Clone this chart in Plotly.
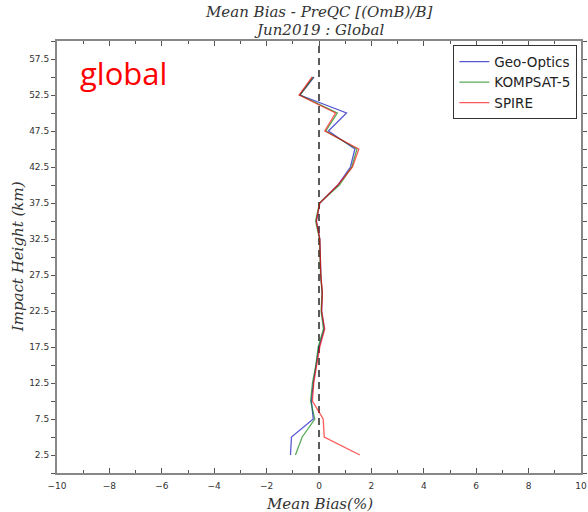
import plotly.graph_objects as go

# Impact heights (km) of the bias profile
heights = [2.5, 5, 7.5, 10, 12.5, 15, 17.5, 20, 22.5, 25, 27.5,
           30, 32.5, 35, 37.5, 40, 42.5, 45, 47.5, 50, 52.5, 55]

# Mean bias (%) per mission
geo_optics = [-1.09, -1.05, -0.22, -0.29, -0.22, -0.10, 0.00, 0.20, 0.10, 0.12, 0.07,
              0.05, 0.03, -0.10, 0.03, 0.72, 1.20, 1.37, 0.36, 1.05, -0.73, -0.19]
kompsat5 = [-0.90, -0.64, -0.16, -0.32, -0.25, -0.12, -0.03, 0.17, 0.08, 0.12, 0.06,
            0.04, 0.02, -0.13, 0.02, 0.78, 1.25, 1.45, 0.26, 0.70, -0.73, -0.22]
spire = [1.56, 0.20, 0.16, -0.25, -0.20, -0.08, 0.03, 0.22, 0.10, 0.13, 0.07,
         0.05, 0.03, -0.10, 0.03, 0.72, 1.28, 1.52, 0.22, 0.63, -0.76, -0.26]

series = [
    ("Geo-Optics", geo_optics, "rgba(0,0,191,0.65)"),
    ("KOMPSAT-5", kompsat5, "rgba(0,128,0,0.65)"),
    ("SPIRE", spire, "rgba(255,0,0,0.65)"),
]

title_lines = ["Mean Bias - PreQC [(OmB)/B]", "Jun2019 : Global"]
x_title = "Mean Bias(%)"
y_title = "Impact Height (km)"
y_ticks = [2.5 + 5 * i for i in range(12)]
x_ticks = list(range(-10, 11, 2))

fig = go.Figure()
for name, vals, color in series:
    fig.add_trace(go.Scatter(x=vals, y=heights, mode="lines", name=name,
                             line=dict(color=color, width=1.3)))

# zero-bias reference line
fig.add_shape(type="line", x0=0, x1=0, y0=0, y1=60, xref="x", yref="y",
              line=dict(color="#5a5a5a", width=2, dash="7px,5px"), layer="below")

serif_it = dict(family="DejaVu Serif", size=15, color="#333333", style="italic")
tick_font = dict(family="DejaVu Sans", size=9, color="#333333")

# two-line heading above the plot area
for text, ypos in zip(title_lines, [1.067, 1.026]):
    fig.add_annotation(text=text, x=0.5, y=ypos, xref="paper", yref="paper",
                       xanchor="center", yanchor="middle", showarrow=False,
                       font=serif_it)

# axis titles
fig.add_annotation(text=x_title, x=0.5, y=-0.072, xref="paper", yref="paper",
                   xanchor="center", yanchor="middle", showarrow=False, font=serif_it)
fig.add_annotation(text=y_title, x=-0.074, y=0.5, xref="paper", yref="paper",
                   xanchor="center", yanchor="middle", textangle=-90,
                   showarrow=False, font=serif_it)

fig.add_annotation(text="global", x=0.04, y=0.925, xref="paper", yref="paper",
                   xanchor="left", yanchor="middle", showarrow=False,
                   font=dict(family="Open Sans", size=31, color="red"))

fig.update_layout(
    width=588, height=512,
    margin=dict(l=57, r=7, t=41, b=39),
    paper_bgcolor="white", plot_bgcolor="white",
    showlegend=True,
    legend=dict(x=0.993, y=0.99, xanchor="right", yanchor="top",
                bgcolor="white", bordercolor="#333333", borderwidth=1,
                font=dict(family="DejaVu Sans", size=13.5, color="#222222"),
                tracegroupgap=0),
    xaxis=dict(range=[-10, 10], tickvals=x_ticks, ticks="inside", ticklen=5,
               tickcolor="#555555", showline=True, linecolor="#888888", linewidth=2,
               mirror="ticks", showgrid=False, zeroline=False, tickfont=tick_font,
               ticklabelstandoff=3, automargin=False,
               minor=dict(tick0=-10, dtick=1, ticks="inside", ticklen=3,
                          tickcolor="#555555")),
    yaxis=dict(range=[0, 60], tickvals=y_ticks, ticktext=[f"{v}" for v in y_ticks],
               ticks="outside", ticklen=4, tickcolor="#555555",
               showline=True, linecolor="#888888", linewidth=2,
               mirror="ticks", showgrid=False, zeroline=False, tickfont=tick_font,
               automargin=False,
               minor=dict(tick0=0, dtick=5, ticks="outside", ticklen=4,
                          tickcolor="#555555")),
)

fig.write_html("out.html")
